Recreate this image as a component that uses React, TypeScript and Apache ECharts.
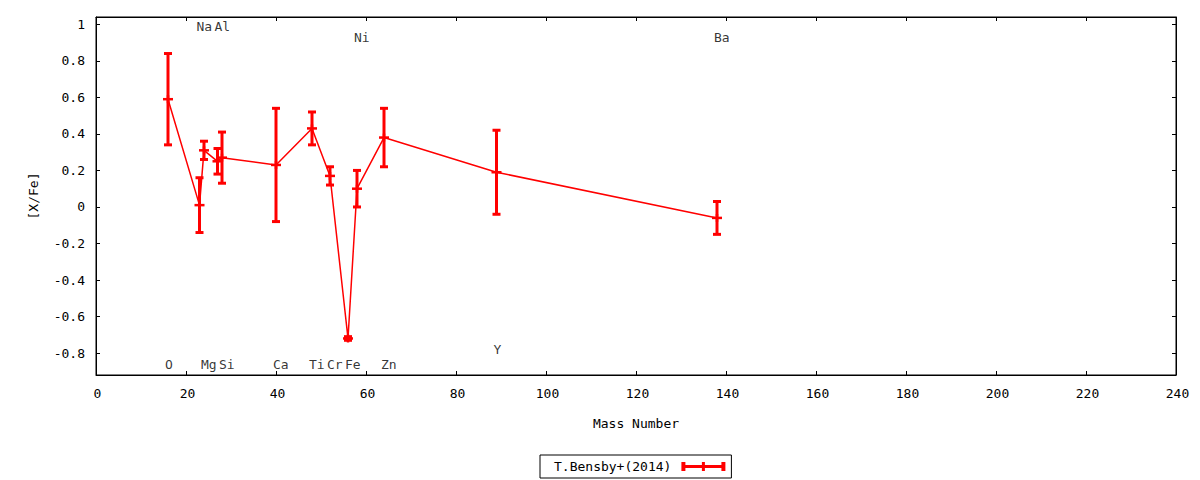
import React, { useEffect, useRef } from "react";
import * as echarts from "echarts";

// Element data (T.Bensby+ 2014)
const elements = ["O", "Na", "Mg", "Al", "Si", "Ca", "Ti", "Cr", "Fe", "Ni", "Zn", "Y", "Ba"];
const massNumbers = [16, 23, 24, 27, 28, 40, 48, 52, 56, 58, 64, 89, 138];
const abundances = [0.59, 0.01, 0.31, 0.25, 0.27, 0.23, 0.43, 0.17, -0.72, 0.10, 0.38, 0.19, -0.06];
const errors = [0.25, 0.15, 0.05, 0.07, 0.14, 0.31, 0.09, 0.05, 0.01, 0.10, 0.16, 0.23, 0.09];

// Element name annotations
const labelNames = ["O", "Na", "Mg", "Al", "Si", "Ca", "Ti", "Cr", "Fe", "Ni", "Zn", "Y", "Ba"];
const labelMass = [16, 23, 24, 27, 28, 40, 48, 52, 56, 58, 64, 89, 138];
const labelY = [-0.86, 0.99, -0.86, 0.99, -0.86, -0.86, -0.86, -0.86, -0.86, 0.93, -0.86, -0.78, 0.93];

const yTicks = [-0.8, -0.6, -0.4, -0.2, 0, 0.2, 0.4, 0.6, 0.8, 1];
const seriesName = "T.Bensby+(2014)";

const FONT = "DejaVu Sans Mono";
const RED = "#ff0000";

export default function App() {
  const ref = useRef<HTMLDivElement>(null);
  useEffect(() => {
    if (!ref.current) return;
    const chart = echarts.init(ref.current, null, { renderer: "svg" });

    const lineData = massNumbers.map((m, i) => [m, abundances[i]]);
    const errData = massNumbers.map((m, i) => [m, abundances[i] - errors[i], abundances[i] + errors[i], abundances[i]]);
    const labelData = labelMass.map((m, i) => ({ value: [m, labelY[i]], name: labelNames[i] }));

    const fmt = (v: number) => String(+Number(v).toFixed(1));
    const axisLine = { show: true, onZero: false, lineStyle: { color: "#000", width: 1 } };
    const tick = { show: true, inside: true, length: 4, lineStyle: { color: "#000" } };

    chart.setOption({
      animation: false,
      textStyle: { fontFamily: FONT },
      grid: { left: 96, top: 17, right: 24, bottom: 105, show: true, borderColor: "#000", borderWidth: 1 },
      legend: {
        left: 540,
        top: 455,
        orient: "horizontal",
        align: "right",
        padding: [5, 6, 5, 14],
        itemWidth: 44,
        itemHeight: 9,
        borderColor: "#000",
        borderWidth: 1,
        borderRadius: 0,
        textStyle: { fontFamily: FONT, fontSize: 13, color: "#000", padding: [0, 5, 0, 0] },
        data: [
          {
            name: seriesName,
            icon: "path://M0,0h4v9h-4z M40,0h4v9h-4z M20.5,0h3v9h-3z M0,3h44v3h-44z",
            itemStyle: { color: RED },
          },
        ],
      },
      xAxis: [
        {
          type: "value",
          min: 0,
          max: 240,
          interval: 20,
          name: "Mass Number",
          nameLocation: "middle",
          nameGap: 42,
          nameTextStyle: { fontFamily: FONT, fontSize: 13, color: "#000" },
          axisLine,
          axisTick: tick,
          axisLabel: { show: true, margin: 12, fontFamily: FONT, fontSize: 13, color: "#000", padding: [0, 0, 0, 3] },
          splitLine: { show: false },
        },
        {
          type: "value",
          position: "top",
          min: 0,
          max: 240,
          interval: 20,
          axisLine,
          axisTick: tick,
          axisLabel: { show: false },
          splitLine: { show: false },
        },
      ],
      yAxis: [
        {
          type: "value",
          min: -0.92,
          max: 1.04,
          name: "[X/Fe]",
          nameLocation: "middle",
          nameGap: 56,
          nameRotate: 90,
          nameTextStyle: { fontFamily: FONT, fontSize: 13, color: "#000" },
          axisLine,
          axisTick: { ...tick, customValues: yTicks },
          axisLabel: { show: true, margin: 11, customValues: yTicks, formatter: fmt, fontFamily: FONT, fontSize: 13, color: "#000" },
          splitLine: { show: false },
        },
        {
          type: "value",
          position: "right",
          min: -0.92,
          max: 1.04,
          axisLine,
          axisTick: { ...tick, customValues: yTicks },
          axisLabel: { show: false, customValues: yTicks },
          splitLine: { show: false },
        },
      ],
      series: [
        {
          name: seriesName,
          type: "line",
          data: lineData,
          symbol: "none",
          lineStyle: { color: RED, width: 1.5 },
          itemStyle: { color: RED },
          z: 2,
        },
        {
          name: seriesName,
          type: "custom",
          data: errData,
          z: 3,
          renderItem: (params: any, api: any) => {
            const x = api.value(0);
            const lo = api.coord([x, api.value(1)]);
            const hi = api.coord([x, api.value(2)]);
            const c = api.coord([x, api.value(3)]);
            const style = { stroke: RED, lineWidth: 3 };
            const capW = 4;
            const cenW = 5;
            const cenH = 4;
            return {
              type: "group",
              children: [
                { type: "line", shape: { x1: lo[0], y1: lo[1], x2: hi[0], y2: hi[1] }, style },
                { type: "line", shape: { x1: lo[0] - capW, y1: lo[1], x2: lo[0] + capW, y2: lo[1] }, style },
                { type: "line", shape: { x1: hi[0] - capW, y1: hi[1], x2: hi[0] + capW, y2: hi[1] }, style },
                { type: "line", shape: { x1: c[0] - cenW, y1: c[1], x2: c[0] + cenW, y2: c[1] }, style: { stroke: RED, lineWidth: 2.5 } },
                { type: "line", shape: { x1: c[0], y1: c[1] - cenH, x2: c[0], y2: c[1] + cenH }, style: { stroke: RED, lineWidth: 2.5 } },
              ],
            };
          },
        },
        {
          name: "labels",
          type: "scatter",
          data: labelData,
          symbolSize: 0,
          silent: true,
          label: {
            show: true,
            position: [-3, 0],
            align: "left",
            verticalAlign: "middle",
            formatter: (p: any) => p.name,
            fontFamily: FONT,
            fontSize: 13,
            color: "#000",
          },
          z: 4,
        },
      ],
    });
    return () => chart.dispose();
  }, []);
  return <div ref={ref} style={{ position: "absolute", left: 0, top: 0, width: 1200, height: 480 }} />;
}
